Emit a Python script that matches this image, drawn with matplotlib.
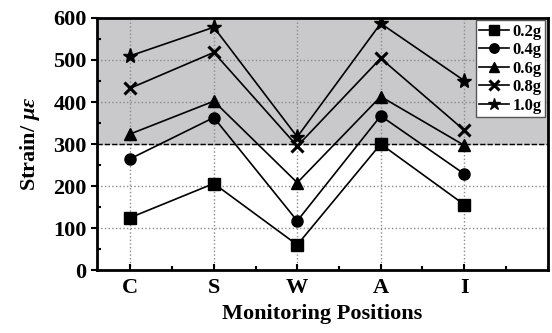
import matplotlib
matplotlib.use('Agg')
import matplotlib.pyplot as plt
from matplotlib.ticker import MultipleLocator

plt.rcParams['font.family'] = 'Liberation Serif'
plt.rcParams['font.weight'] = 'bold'
plt.rcParams['mathtext.fontset'] = 'custom'
plt.rcParams['mathtext.it'] = 'Liberation Serif:italic:bold'

positions = ['C', 'S', 'W', 'A', 'I']
x = [1, 2, 3, 4, 5]
s02 = [125, 206, 60, 300, 156]
s04 = [265, 363, 117, 367, 229]
s06 = [324, 402, 208, 413, 297]
s08 = [433, 518, 295, 504, 333]
s10 = [510, 578, 317, 587, 451]
series = [('0.2g', s02, 's'), ('0.4g', s04, 'o'), ('0.6g', s06, '^'),
          ('0.8g', s08, 'x'), ('1.0g', s10, '*')]

fig = plt.figure(figsize=(5.52, 3.33), dpi=100)
ax = fig.add_axes([0.1757, 0.189, 0.8163, 0.757])

ax.axhspan(300, 600, color='#c9c9cb', zorder=0)
ax.axhline(300, color='black', linestyle='--', linewidth=1.0, zorder=1)

for name, vals, m in series:
    ms = 8 if m != 'x' else 9
    if m == '*':
        ms = 11
    ax.plot(x, vals, color='black', marker=m, markersize=ms, linewidth=1.2,
            markeredgewidth=2.2 if m == 'x' else 1, label=name, zorder=3)

ax.set_xlim(0.6, 6.0)
ax.set_ylim(0, 600)
ax.set_xticks(x)
ax.set_xticklabels(positions)
ax.xaxis.set_minor_locator(MultipleLocator(0.5))
ax.yaxis.set_major_locator(MultipleLocator(100))
ax.yaxis.set_minor_locator(MultipleLocator(50))
ax.grid(True, which='major', color='#8a8a8a', linestyle=':', linewidth=1.0, zorder=1)
ax.set_axisbelow(True)

ax.tick_params(axis='both', which='major', labelsize=16, width=1.5, length=4)
ax.tick_params(axis='y', which='major', direction='out')
ax.tick_params(axis='x', which='major', direction='in', pad=6)
ax.tick_params(which='minor', direction='in', length=3, width=1.5)
for sp in ax.spines.values():
    sp.set_linewidth(2)

ax.set_xlabel('Monitoring Positions', fontsize=16, fontweight='bold', labelpad=4)
ax.set_ylabel(r'Strain/ $\mu\varepsilon$', fontsize=16, fontweight='bold', labelpad=8)

leg = ax.legend(loc='upper right', fontsize=12, handlelength=1.8, handletextpad=0.2,
                borderpad=0.2, labelspacing=0.15, fancybox=False, framealpha=1,
                borderaxespad=0.15, markerscale=0.85)
leg.get_frame().set_edgecolor('#555555')
leg.get_frame().set_linewidth(1.0)

fig.savefig('out.png', dpi=100)
